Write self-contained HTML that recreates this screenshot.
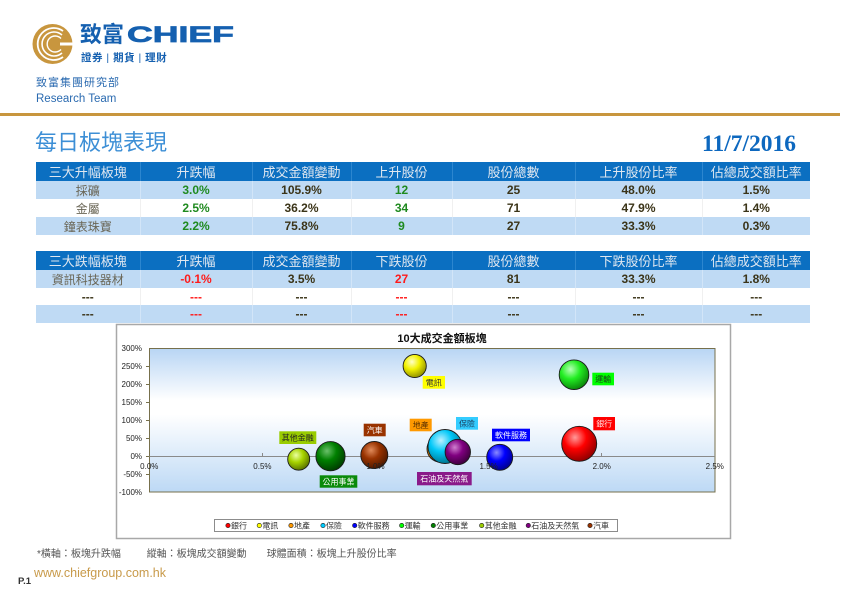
<!DOCTYPE html>
<html><head><meta charset="utf-8">
<style>
*{margin:0;padding:0;box-sizing:border-box}
body{width:842px;height:595px;background:#fff;position:relative;overflow:hidden;font-family:"Liberation Sans","Noto Sans CJK TC",sans-serif}
.abs{position:absolute;white-space:nowrap}
table{position:absolute;left:36px;border-collapse:collapse;table-layout:fixed;width:774px}
td{text-align:center;padding:0;overflow:hidden;white-space:nowrap}
tr.h td{background:#0b6fc1;color:#dfe7f0;font-size:13px;border-left:1px solid #2c86cf}
tr.h td:first-child{border-left:none}
tr.b td{background:#bfdaf4;border-left:1px solid #d2e5f8}
tr.w td{background:#fff;border-left:1px solid #f0f0f0}
tr.b td:first-child,tr.w td:first-child{border-left:none}
td.n{color:#6a6656;font-size:12px}
td.g{color:#1f8a1f;font-weight:bold;font-size:12px}
td.k{color:#3b3418;font-weight:bold;font-size:12px}
td.r{color:#ff1a1a;font-weight:bold;font-size:12px}
</style></head><body>

<!-- logo emblem -->
<svg class="abs" style="left:30px;top:22px" width="46" height="46" viewBox="0 0 46 46">
<circle cx="22.5" cy="22" r="20" fill="#c8963e"/>
<path d="M33 9 A16 16 0 1 0 33 35" fill="none" stroke="#fff" stroke-width="1.8"/>
<path d="M32 13 A12 12 0 1 0 32 31" fill="none" stroke="#fff" stroke-width="1.6"/>
<path d="M31 16.5 A8 8 0 1 0 31 27.5" fill="none" stroke="#fff" stroke-width="1.4"/>
<rect x="30" y="20.5" width="16" height="3" fill="#fff"/>
</svg>
<div class="abs" style="left:80px;top:22px;font-size:22px;font-weight:bold;color:#1560b0;line-height:26px">致富</div>
<div class="abs" style="left:127px;top:22px;font-size:22px;font-weight:bold;color:#1560b0;line-height:26px;transform:scaleX(1.62);transform-origin:0 0;-webkit-text-stroke:0.7px #1560b0">CHIEF</div>
<div class="abs" style="left:81px;top:52px;font-size:10.5px;font-weight:bold;color:#1560b0;line-height:13px;letter-spacing:0.5px">證券 <span style="font-weight:normal">|</span> 期貨 <span style="font-weight:normal">|</span> 理財</div>

<div class="abs" style="left:36px;top:77px;font-size:11px;color:#2a6ab0;line-height:13px;letter-spacing:1px">致富集團研究部</div>
<div class="abs" style="left:36px;top:93px;font-size:11.5px;color:#2a6ab0;line-height:13px">Research Team</div>

<div class="abs" style="left:0;top:113px;width:840px;height:3px;background:#c8963e"></div>

<div class="abs" style="left:35px;top:130px;font-size:22px;color:#3d8fd6;line-height:26px">每日板塊表現</div>
<div class="abs" style="left:702px;top:131px;font-size:23.5px;font-weight:bold;color:#0d68bf;font-family:'Liberation Serif',serif;line-height:27px">11/7/2016</div>

<table style="top:162px">
<colgroup><col style="width:104px"><col style="width:112px"><col style="width:99px"><col style="width:101px"><col style="width:123px"><col style="width:127px"><col style="width:108px"></colgroup>
<tr class="h" style="height:17px"><td>三大升幅板塊</td><td>升跌幅</td><td>成交金額變動</td><td>上升股份</td><td>股份總數</td><td>上升股份比率</td><td>佔總成交額比率</td></tr>
<tr class="b" style="height:18px"><td class="n">採礦</td><td class="g">3.0%</td><td class="k">105.9%</td><td class="g">12</td><td class="k">25</td><td class="k">48.0%</td><td class="k">1.5%</td></tr>
<tr class="w" style="height:18px"><td class="n">金屬</td><td class="g">2.5%</td><td class="k">36.2%</td><td class="g">34</td><td class="k">71</td><td class="k">47.9%</td><td class="k">1.4%</td></tr>
<tr class="b" style="height:18px"><td class="n">鐘表珠寶</td><td class="g">2.2%</td><td class="k">75.8%</td><td class="g">9</td><td class="k">27</td><td class="k">33.3%</td><td class="k">0.3%</td></tr>
</table>

<table style="top:251px">
<colgroup><col style="width:104px"><col style="width:112px"><col style="width:99px"><col style="width:101px"><col style="width:123px"><col style="width:127px"><col style="width:108px"></colgroup>
<tr class="h" style="height:19px"><td>三大跌幅板塊</td><td>升跌幅</td><td>成交金額變動</td><td>下跌股份</td><td>股份總數</td><td>下跌股份比率</td><td>佔總成交額比率</td></tr>
<tr class="b" style="height:18px"><td class="n">資訊科技器材</td><td class="r">-0.1%</td><td class="k">3.5%</td><td class="r">27</td><td class="k">81</td><td class="k">33.3%</td><td class="k">1.8%</td></tr>
<tr class="w" style="height:17px"><td class="k">---</td><td class="r">---</td><td class="k">---</td><td class="r">---</td><td class="k">---</td><td class="k">---</td><td class="k">---</td></tr>
<tr class="b" style="height:18px"><td class="k">---</td><td class="r">---</td><td class="k">---</td><td class="r">---</td><td class="k">---</td><td class="k">---</td><td class="k">---</td></tr>
</table>

<svg class="abs" style="left:0;top:0" width="842" height="595" viewBox="0 0 842 595" font-family="Liberation Sans, Noto Sans CJK TC, sans-serif">
<defs>
<linearGradient id="pg" x1="0" y1="0" x2="0" y2="1">
<stop offset="0" stop-color="#b8d5f4"/><stop offset="0.36" stop-color="#ffffff"/><stop offset="0.46" stop-color="#ffffff"/><stop offset="1" stop-color="#bdd9f5"/>
</linearGradient>
<radialGradient id="s_red" cx="0.38" cy="0.32" r="0.72"><stop offset="0" stop-color="#ff9a9a"/><stop offset="0.45" stop-color="#ff0000"/><stop offset="1" stop-color="#8a0000"/></radialGradient>
<radialGradient id="s_yel" cx="0.38" cy="0.32" r="0.72"><stop offset="0" stop-color="#ffffc8"/><stop offset="0.45" stop-color="#f2f200"/><stop offset="1" stop-color="#8a8a00"/></radialGradient>
<radialGradient id="s_org" cx="0.38" cy="0.32" r="0.72"><stop offset="0" stop-color="#ffd49a"/><stop offset="0.45" stop-color="#ff9900"/><stop offset="1" stop-color="#8a5200"/></radialGradient>
<radialGradient id="s_cya" cx="0.38" cy="0.32" r="0.72"><stop offset="0" stop-color="#bff0ff"/><stop offset="0.45" stop-color="#00c8f8"/><stop offset="1" stop-color="#00708a"/></radialGradient>
<radialGradient id="s_blu" cx="0.38" cy="0.32" r="0.72"><stop offset="0" stop-color="#8a8aff"/><stop offset="0.45" stop-color="#0000ff"/><stop offset="1" stop-color="#00008a"/></radialGradient>
<radialGradient id="s_grn" cx="0.38" cy="0.32" r="0.72"><stop offset="0" stop-color="#b8ffb8"/><stop offset="0.45" stop-color="#22ee22"/><stop offset="1" stop-color="#0a800a"/></radialGradient>
<radialGradient id="s_dgr" cx="0.38" cy="0.32" r="0.72"><stop offset="0" stop-color="#6ac06a"/><stop offset="0.45" stop-color="#008000"/><stop offset="1" stop-color="#003a00"/></radialGradient>
<radialGradient id="s_ygr" cx="0.38" cy="0.32" r="0.72"><stop offset="0" stop-color="#eaffa0"/><stop offset="0.45" stop-color="#a8d400"/><stop offset="1" stop-color="#566e00"/></radialGradient>
<radialGradient id="s_pur" cx="0.38" cy="0.32" r="0.72"><stop offset="0" stop-color="#d080d0"/><stop offset="0.45" stop-color="#800080"/><stop offset="1" stop-color="#3a003a"/></radialGradient>
<radialGradient id="s_brn" cx="0.38" cy="0.32" r="0.72"><stop offset="0" stop-color="#e08a5a"/><stop offset="0.45" stop-color="#993300"/><stop offset="1" stop-color="#4a1800"/></radialGradient>
</defs>

<rect x="116.5" y="324.5" width="614" height="214" fill="#fff" stroke="#a8a8a8" stroke-width="1.5"/>
<text x="442" y="342" font-size="11" font-weight="bold" fill="#111" text-anchor="middle">10大成交金額板塊</text>

<rect x="149.5" y="348.5" width="565.5" height="143.5" fill="url(#pg)" stroke="#77704c" stroke-width="1"/>

<g font-size="8" fill="#222" text-anchor="end">
<text x="142" y="351">300%</text><text x="142" y="369">250%</text><text x="142" y="387">200%</text><text x="142" y="405">150%</text><text x="142" y="423">100%</text><text x="142" y="441">50%</text><text x="142" y="459">0%</text><text x="142" y="477">-50%</text><text x="142" y="495">-100%</text>
</g>
<g stroke="#77704c" stroke-width="1">
<line x1="146" y1="366.5" x2="149.5" y2="366.5"/><line x1="146" y1="384.5" x2="149.5" y2="384.5"/><line x1="146" y1="402.5" x2="149.5" y2="402.5"/><line x1="146" y1="420.5" x2="149.5" y2="420.5"/><line x1="146" y1="438.5" x2="149.5" y2="438.5"/><line x1="146" y1="456.5" x2="149.5" y2="456.5"/><line x1="146" y1="474.5" x2="149.5" y2="474.5"/>
</g>
<line x1="149.5" y1="456.5" x2="715" y2="456.5" stroke="#8a8a8a" stroke-width="1"/>
<g stroke="#8a8a8a" stroke-width="1">
<line x1="262.5" y1="453" x2="262.5" y2="456.5"/><line x1="375.5" y1="453" x2="375.5" y2="456.5"/><line x1="488.5" y1="453" x2="488.5" y2="456.5"/><line x1="601.5" y1="453" x2="601.5" y2="456.5"/>
</g>

<!-- bubbles -->
<g stroke="#1a1a1a" stroke-width="0.9">
<circle cx="579.2" cy="443.8" r="17.5" fill="url(#s_red)"/>
<circle cx="414.7" cy="366" r="11.6" fill="url(#s_yel)"/>
<circle cx="440" cy="449" r="13" fill="url(#s_org)"/>
<circle cx="445" cy="446.5" r="17" fill="url(#s_cya)"/>
<circle cx="499.7" cy="457.3" r="13" fill="url(#s_blu)"/>
<circle cx="574" cy="374.7" r="14.8" fill="url(#s_grn)"/>
<circle cx="330.5" cy="456.2" r="14.6" fill="url(#s_dgr)"/>
<circle cx="298.7" cy="459.2" r="11" fill="url(#s_ygr)"/>
<circle cx="457.8" cy="452" r="12.7" fill="url(#s_pur)"/>
<circle cx="374.3" cy="455" r="13.5" fill="url(#s_brn)"/>
</g>

<g font-size="8" fill="#222" text-anchor="middle">
<text x="149.3" y="469">0.0%</text><text x="262.4" y="469">0.5%</text><text x="375.5" y="469">1.0%</text><text x="488.6" y="469">1.5%</text><text x="601.7" y="469">2.0%</text><text x="714.8" y="469">2.5%</text>
</g>

<!-- data labels -->
<g font-size="8" text-anchor="middle">
<rect x="279.3" y="431.3" width="37" height="12.7" fill="#99cc00"/><text x="297.8" y="440.7" fill="#222">其他金融</text>
<rect x="319.7" y="475.3" width="37.6" height="12.4" fill="#0a8a0a"/><text x="338.5" y="484.6" fill="#fff">公用事業</text>
<rect x="363.7" y="423.7" width="22" height="12.6" fill="#993300"/><text x="374.7" y="433" fill="#fff">汽車</text>
<rect x="422.7" y="376" width="22.3" height="12.7" fill="#ffff00"/><text x="433.8" y="385.4" fill="#333">電訊</text>
<rect x="409.7" y="418.7" width="22" height="12.6" fill="#ff9900"/><text x="420.7" y="428" fill="#5a3000">地產</text>
<rect x="456" y="417" width="22" height="12.7" fill="#33ccff"/><text x="467" y="426.4" fill="#1a3a5a">保險</text>
<rect x="492" y="428.7" width="38" height="12.6" fill="#0000ff"/><text x="511" y="438" fill="#fff">軟件服務</text>
<rect x="417" y="472" width="54.7" height="13.3" fill="#8a1a8a"/><text x="444.3" y="481.7" fill="#fff">石油及天然氣</text>
<rect x="592.3" y="372.7" width="21.7" height="12.6" fill="#00ff00"/><text x="603.2" y="382" fill="#1a3a1a">運輸</text>
<rect x="593.3" y="417" width="21.7" height="13.3" fill="#ff0000"/><text x="604.2" y="426.7" fill="#ffe0e0">銀行</text>
</g>

<!-- legend -->
<rect x="214.5" y="519.5" width="403" height="12" fill="#fff" stroke="#8c8c8c" stroke-width="1"/>
<g stroke="#222" stroke-width="0.6">
<circle cx="228" cy="525.5" r="2.2" fill="#ff0000"/>
<circle cx="259.3" cy="525.5" r="2.2" fill="#ffff00"/>
<circle cx="291" cy="525.5" r="2.2" fill="#ff9900"/>
<circle cx="323" cy="525.5" r="2.2" fill="#00ccff"/>
<circle cx="354.7" cy="525.5" r="2.2" fill="#0000ff"/>
<circle cx="401.7" cy="525.5" r="2.2" fill="#00ff00"/>
<circle cx="433.3" cy="525.5" r="2.2" fill="#008000"/>
<circle cx="481.7" cy="525.5" r="2.2" fill="#99cc00"/>
<circle cx="528.3" cy="525.5" r="2.2" fill="#800080"/>
<circle cx="590" cy="525.5" r="2.2" fill="#993300"/>
</g>
<g font-size="8" fill="#333">
<text x="231" y="528.5">銀行</text>
<text x="262.3" y="528.5">電訊</text>
<text x="294" y="528.5">地產</text>
<text x="326" y="528.5">保險</text>
<text x="357.7" y="528.5">軟件服務</text>
<text x="404.7" y="528.5">運輸</text>
<text x="436.3" y="528.5">公用事業</text>
<text x="484.7" y="528.5">其他金融</text>
<text x="531.3" y="528.5">石油及天然氣</text>
<text x="593" y="528.5">汽車</text>
</g>
</svg>

<div class="abs" style="left:37px;top:548px;font-size:10px;color:#555;line-height:13px">*橫軸：板塊升跌幅</div>
<div class="abs" style="left:146.7px;top:548px;font-size:10px;color:#555;line-height:13px">縱軸：板塊成交額變動</div>
<div class="abs" style="left:266.7px;top:548px;font-size:10px;color:#555;line-height:13px">球體面積：板塊上升股份比率</div>

<div class="abs" style="left:18px;top:576px;font-size:9.5px;font-weight:bold;color:#333;line-height:11px">P.1</div>
<div class="abs" style="left:34px;top:566px;font-size:12.5px;color:#c89a4a;line-height:15px">www.chiefgroup.com.hk</div>

</body></html>
